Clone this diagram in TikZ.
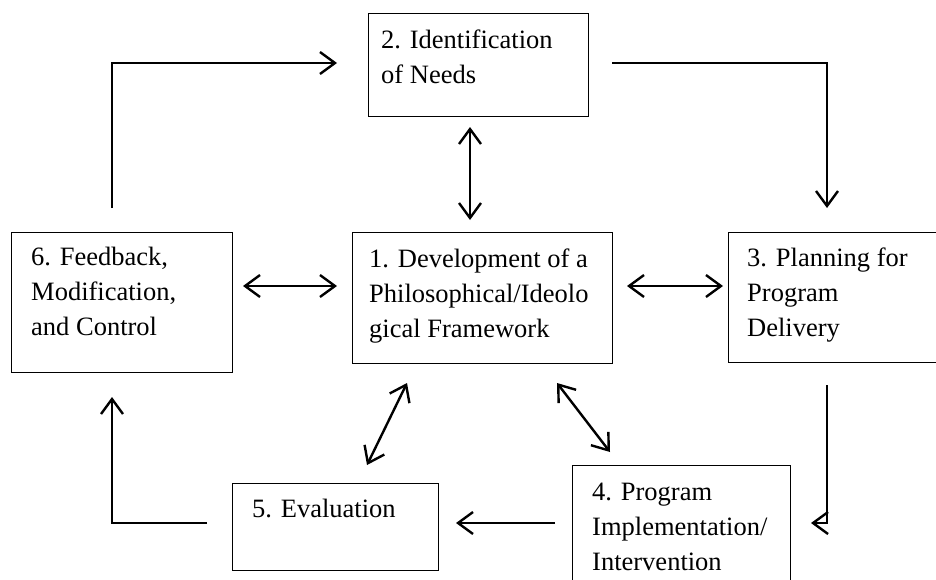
\documentclass[tikz,border=0pt]{standalone}
\usepackage{fontspec}
\setmainfont{Liberation Serif}
\usetikzlibrary{arrows.meta}
\tikzset{
  box/.style={draw=black, line width=1.1pt, rectangle, inner sep=0pt, anchor=north west},
  txt/.style={anchor=north west, inner sep=0pt, align=left, font=\fontsize{26.5}{35}\selectfont},
  conn/.style={line width=2.4pt, -{Straight Barb[length=15pt,width=22pt]}},
  dconn/.style={line width=2.4pt, {Straight Barb[length=15pt,width=22pt]}-{Straight Barb[length=15pt,width=22pt]}}
}
\begin{document}
\begin{tikzpicture}[x=1pt,y=-1pt]
\useasboundingbox (0,0) rectangle (936,579);
\clip (0,0) rectangle (936,579);
\fill[white] (0,0) rectangle (936,579);
% boxes
\node[box, minimum width=220pt, minimum height=103pt] (b2) at (368,13) {};
\node[box, minimum width=260pt, minimum height=131pt] (b1) at (352,232) {};
\node[box, minimum width=221pt, minimum height=140pt] (b6) at (11,232) {};
\node[box, minimum width=240pt, minimum height=130pt] (b3) at (728,232) {};
\node[box, minimum width=206pt, minimum height=87pt] (b5) at (232,483) {};
\node[box, minimum width=218pt, minimum height=140pt] (b4) at (572,465) {};
% texts
\node[txt] (t2) at (381,23.5) {\strut 2. Identification\\of Needs};
\node[txt] (t1) at (369,242.5) {\strut 1. Development of a\\Philosophical/Ideolo\\gical Framework};
\node[txt] (t6) at (31,240.5) {\strut 6. Feedback,\\Modification,\\and Control};
\node[txt] (t3) at (747,241.5) {\strut 3. Planning for\\Program\\Delivery};
\node[txt] (t5) at (252,492.5) {\strut 5. Evaluation};
\node[txt] (t4) at (592,475.5) {\strut 4. Program\\Implementation/\\Intervention};
% connector end points
\coordinate (a62s) at (112,208);
\coordinate (a62c) at (112,63);
\coordinate (a62e) at (337,63);
\coordinate (a23s) at (612,63);
\coordinate (a23c) at (827,63);
\coordinate (a23e) at (827,208);
\coordinate (a34s) at (827,385);
\coordinate (a34c) at (827,523);
\coordinate (a34e) at (811,523);
\coordinate (a45s) at (555,523);
\coordinate (a45e) at (456,523);
\coordinate (a56s) at (207,523);
\coordinate (a56c) at (112,523);
\coordinate (a56e) at (112,397);
\coordinate (d21a) at (470,127);
\coordinate (d21b) at (470,220);
\coordinate (d61a) at (243,286);
\coordinate (d61b) at (337,286);
\coordinate (d13a) at (627,286);
\coordinate (d13b) at (723,286);
\coordinate (d15a) at (407,383);
\coordinate (d15b) at (367,465);
\coordinate (d14a) at (557,383);
\coordinate (d14b) at (610,452);
% cycle connectors
\draw[conn] (a62s) -- (a62c) -- (a62e);
\draw[conn] (a23s) -- (a23c) -- (a23e);
\draw[conn] (a34s) -- (a34c) -- (a34e);
\draw[conn] (a45s) -- (a45e);
\draw[conn] (a56s) -- (a56c) -- (a56e);
% double-headed connectors to the centre
\draw[dconn] (d21a) -- (d21b);
\draw[dconn] (d61a) -- (d61b);
\draw[dconn] (d13a) -- (d13b);
\draw[dconn] (d15a) -- (d15b);
\draw[dconn] (d14a) -- (d14b);
\end{tikzpicture}
\end{document}
